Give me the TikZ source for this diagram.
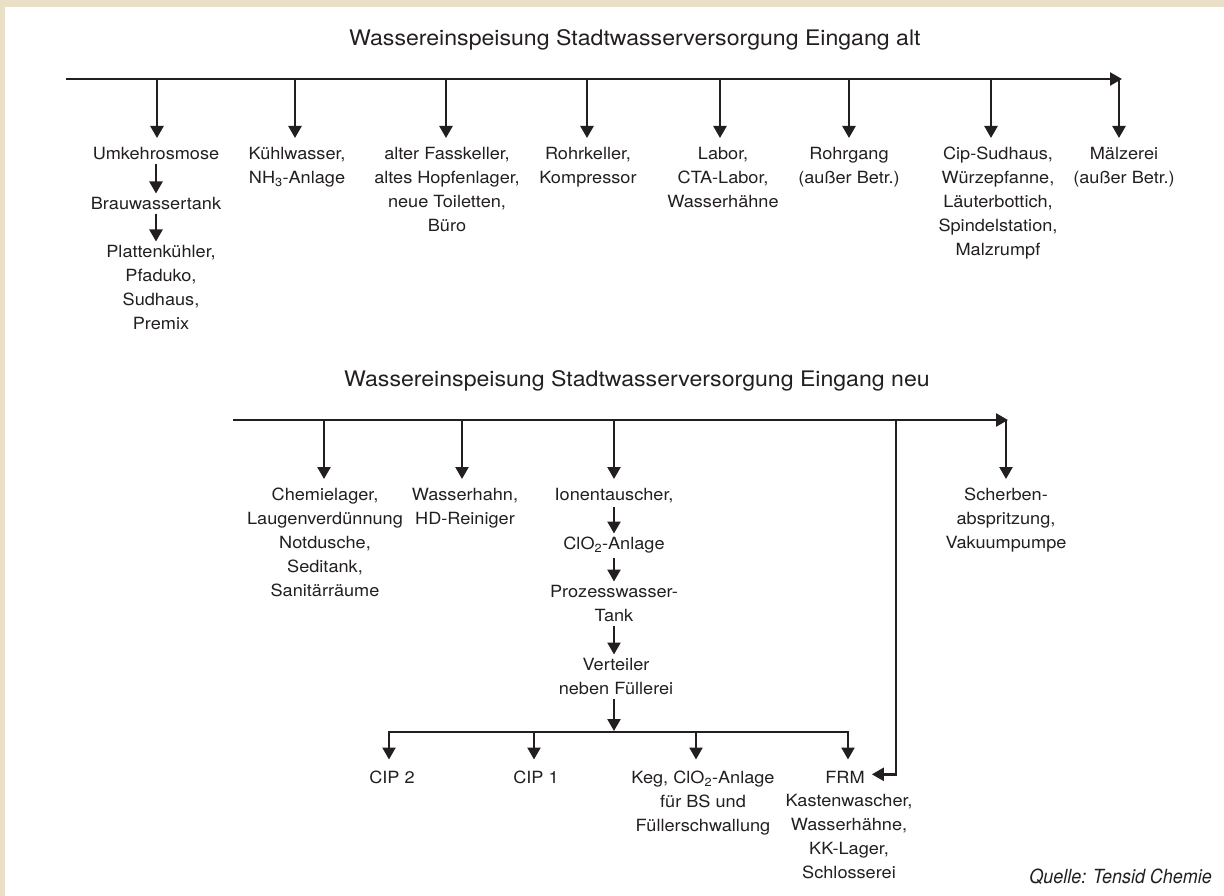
\documentclass[tikz,border=0pt]{standalone}
\usepackage{fontspec}
\setmainfont{TeX Gyre Heros}[FakeStretch=1.08]
\newfontfamily\srcfont{TeX Gyre Heros}[FakeStretch=0.92]
\usepackage{tikz}
\usetikzlibrary{arrows.meta}

\definecolor{ink}{RGB}{35,31,32}
\definecolor{paper}{RGB}{234,223,199}

\begin{document}
\begin{tikzpicture}[x=1pt,y=-1pt,
    every node/.style={text=ink},
    unit/.style={align=center,anchor=north,inner sep=0pt,font=\fontsize{16.8}{24}\selectfont},
    head/.style={anchor=base west,inner sep=0pt,font=\fontsize{21.4}{26}\selectfont},
    main/.style={draw=ink,line width=2.4pt,-{Triangle[width=13pt,length=12pt]}},
    feed/.style={main,shorten >=9pt},
    pass/.style={main,shorten <=4pt,shorten >=3.5pt},
    drop/.style={main,shorten >=11.5pt},
    bar/.style={draw=ink,line width=2.4pt,line cap=rect}]

    % frame
    \fill[paper] (0,0) rectangle (1224,896);
    \fill[white] (5,7) rectangle (1224,896);
    \useasboundingbox (0,0) rectangle (1224,896);

    % old inlet
    \node[head] (alt) at (349,45.7) {Wassereinspeisung Stadtwasserversorgung Eingang alt};
    \coordinate (s1) at (66,79);
    \coordinate (e1) at (1122,79);
    \draw[main] (s1) -- (e1);
    \foreach \n/\x in {1/157,2/295,3/446,4/587,5/720,6/849,7/991,8/1119}
        \coordinate (a\n) at (\x,79);

    \node[unit] (umk)    at ( 156,147) {Umkehrosmose};
    \node[unit] (brau)   at ( 156,197) {Brauwassertank};
    \node[unit] (platte) at ( 161,245) {Plattenkühler,\\Pfaduko,\\Sudhaus,\\Premix};
    \node[unit] (kuehl)  at ( 297,147) {Kühlwasser,\\NH\textsubscript{3}-Anlage};
    \node[unit] (fass)   at ( 447,147) {alter Fasskeller,\\altes Hopfenlager,\\neue Toiletten,\\Büro};
    \node[unit] (rohrk)  at ( 588,147) {Rohrkeller,\\Kompressor};
    \node[unit] (labor)  at ( 723,147) {Labor,\\CTA-Labor,\\Wasserhähne};
    \node[unit] (rohrg)  at ( 849,147) {Rohrgang\\(außer Betr.)};
    \node[unit] (cip)    at ( 998,147) {Cip-Sudhaus,\\Würzepfanne,\\Läuterbottich,\\Spindelstation,\\Malzrumpf};
    \node[unit] (malz)   at (1124,147) {Mälzerei\\(außer Betr.)};

    \foreach \n/\t in {1/umk,2/kuehl,3/fass,4/rohrk,5/labor,6/rohrg,7/cip,8/malz}
        \draw[feed] (a\n) -- (a\n |- \t.north);
    \draw[pass] (umk.south) -- (umk.south |- brau.north);
    \draw[pass] (brau.south) -- (brau.south |- platte.north);

    % new inlet
    \node[head] (neu) at (344,386) {Wassereinspeisung Stadtwasserversorgung Eingang neu};
    \coordinate (s2) at (233,420);
    \coordinate (e2) at (1008,420);
    \draw[main] (s2) -- (e2);
    \foreach \n/\x in {1/324,2/462,3/614,4/896,5/1006}
        \coordinate (b\n) at (\x,420);

    \node[unit] (chem)   at ( 325,488) {Chemielager,\\Laugenverdünnung\\Notdusche,\\Seditank,\\Sanitärräume};
    \node[unit] (hahn)   at ( 465,488) {Wasserhahn,\\HD-Reiniger};
    \node[unit] (ionen)  at ( 614,488) {Ionentauscher,};
    \node[unit] (clo)    at ( 614,537) {ClO\textsubscript{2}-Anlage};
    \node[unit] (proz)   at ( 614,585) {Prozesswasser-\\Tank};
    \node[unit] (vert)   at ( 616,658) {Verteiler\\neben Füllerei};
    \node[unit] (scherb) at (1006,488) {Scherben-\\abspritzung,\\Vakuumpumpe};

    \foreach \n/\t in {1/chem,2/hahn,3/ionen,5/scherb}
        \draw[feed] (b\n) -- (b\n |- \t.north);
    \draw[pass] (ionen.south) -- (ionen.south |- clo.north);
    \draw[pass] (clo.south) -- (clo.south |- proz.north);
    \draw[pass] (proz.south) -- (proz.south |- vert.north);

    % distributor next to the filling hall
    \coordinate (d1) at (389,732);
    \coordinate (d2) at (534,732);
    \coordinate (d3) at (696,732);
    \coordinate (d4) at (848,732);
    \draw[bar] (d1) -- (d4);
    \draw[main,shorten <=4pt,shorten >=1pt] (b3 |- vert.south) -- (b3 |- d1);

    \node[unit] (cip2)    at (392,771) {CIP 2};
    \node[unit] (cip1)    at (536,771) {CIP 1};
    \node[unit] (keg)     at (703,771) {Keg, ClO\textsubscript{2}-Anlage\\für BS und\\Füllerschwallung};
    \node[unit] (frm)     at (845,771) {FRM};
    \node[unit] (frmlist) at (849,794) {Kastenwascher,\\Wasserhähne,\\KK-Lager,\\Schlosserei};

    \foreach \n/\t in {1/cip2,2/cip1,3/keg,4/frm}
        \draw[drop] (d\n) -- (d\n |- \t.north);
    \draw[main,shorten >=7pt] (b4) |- ([yshift=3pt]frm.east);

    \node[anchor=base east,inner sep=0pt,font=\srcfont\itshape\fontsize{19.5}{22}\selectfont] (quelle) at (1212,883) {Quelle: Tensid Chemie};
\end{tikzpicture}
\end{document}
